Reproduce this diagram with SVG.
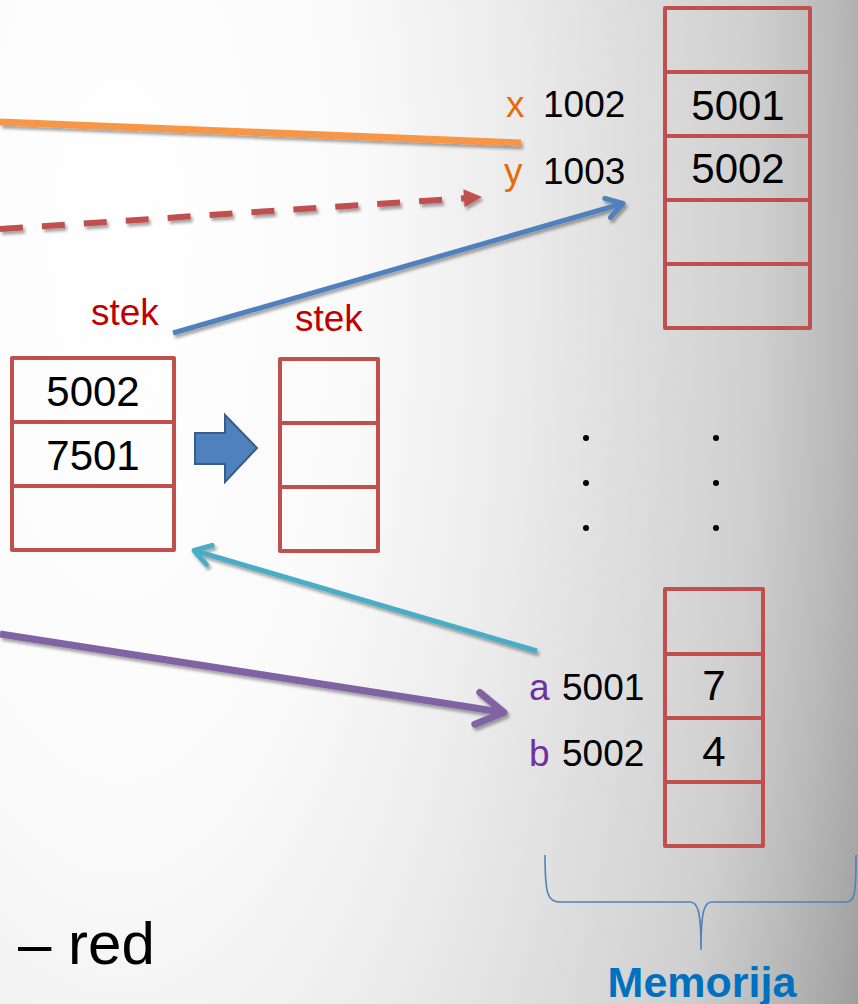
<svg xmlns="http://www.w3.org/2000/svg" width="858" height="1004" viewBox="0 0 858 1004">
  <defs>
    <!-- slide background: soft white-to-grey radial wash -->
    <radialGradient id="bg" gradientUnits="userSpaceOnUse" cx="120" cy="250" r="800"
                    gradientTransform="translate(120 250) scale(1 2.5) translate(-120 -250)">
      <stop offset="0" stop-color="#ffffff"/>
      <stop offset="0.3" stop-color="#fafafa"/>
      <stop offset="0.5" stop-color="#ebebeb"/>
      <stop offset="0.8" stop-color="#cfcfcf"/>
      <stop offset="0.9" stop-color="#b9b9b9"/>
      <stop offset="0.97" stop-color="#a6a6a6"/>
      <stop offset="1" stop-color="#9c9c9c"/>
    </radialGradient>
    <filter id="shadow" x="-10%" y="-50%" width="120%" height="200%">
      <feDropShadow dx="2" dy="3" stdDeviation="1.8" flood-color="#000" flood-opacity="0.35"/>
    </filter>
    <marker id="headRed" markerUnits="userSpaceOnUse" orient="auto" markerWidth="30" markerHeight="30" refX="0" refY="0" viewBox="-10 -15 30 30" overflow="visible">
      <path d="M -2 -9 L 16 0 L -2 9 Z" fill="#c0504d"/>
    </marker>
    <marker id="headBlue" markerUnits="userSpaceOnUse" orient="auto" markerWidth="30" markerHeight="30" refX="0" refY="0" viewBox="-25 -15 30 30" overflow="visible">
      <path d="M -16 -10 L 0 0 L -16 10" fill="none" stroke="#4f81bd" stroke-width="5" stroke-linecap="round" stroke-linejoin="round"/>
    </marker>
    <marker id="headCyan" markerUnits="userSpaceOnUse" orient="auto" markerWidth="30" markerHeight="30" refX="0" refY="0" viewBox="-25 -15 30 30" overflow="visible">
      <path d="M -16 -10 L 0 0 L -16 10" fill="none" stroke="#4bacc6" stroke-width="5" stroke-linecap="round" stroke-linejoin="round"/>
    </marker>
    <marker id="headPurple" markerUnits="userSpaceOnUse" orient="auto" markerWidth="40" markerHeight="40" refX="0" refY="0" viewBox="-30 -20 40 40" overflow="visible">
      <path d="M -27 -16 L 0 0 L -27 16" fill="none" stroke="#8064a2" stroke-width="7" stroke-linecap="round" stroke-linejoin="round"/>
    </marker>
  </defs>
  <style>
    .cell { fill: none; stroke: #c0504d; stroke-width: 4; stroke-linejoin: round; }
    .t { font-family: "Liberation Sans", Arial, sans-serif; fill: #000; }
    .addr { font-size: 37px; }
    .val { font-size: 42px; text-anchor: middle; }
    .stek { font-family: "Liberation Sans", Arial, sans-serif; font-size: 37px; fill: #c00000; }
    .xy { font-family: "Liberation Sans", Arial, sans-serif; font-size: 37px; fill: #e46c0a; }
    .ab { font-family: "Liberation Sans", Arial, sans-serif; font-size: 37px; fill: #7030a0; }
    .dot { fill: #000; }
  </style>

  <rect x="0" y="0" width="858" height="1004" fill="url(#bg)"/>

  <!-- connectors -->
  <g id="connectors" filter="url(#shadow)">
    <line x1="0" y1="122" x2="521" y2="143" stroke="#f79646" stroke-width="7"/>
    <line x1="0" y1="229" x2="466" y2="198.1" stroke="#c0504d" stroke-width="6" stroke-dasharray="23 19" marker-end="url(#headRed)"/>
    <line x1="173" y1="333" x2="623" y2="203.5" stroke="#4f81bd" stroke-width="5" marker-end="url(#headBlue)"/>
    <line x1="537" y1="651" x2="194" y2="550.5" stroke="#4bacc6" stroke-width="5" marker-end="url(#headCyan)"/>
    <line x1="0" y1="634" x2="504" y2="712.5" stroke="#8064a2" stroke-width="7" marker-end="url(#headPurple)"/>
  </g>

  <!-- memory block holding x and y -->
  <g id="mem-top">
    <rect class="cell" x="665" y="8" width="145" height="64"/>
    <rect class="cell" x="665" y="72" width="145" height="64"/>
    <rect class="cell" x="665" y="136" width="145" height="64"/>
    <rect class="cell" x="665" y="200" width="145" height="64"/>
    <rect class="cell" x="665" y="264" width="145" height="64"/>
    <text class="t val" x="738" y="120">5001</text>
    <text class="t val" x="738" y="183">5002</text>
  </g>
  <g id="label-x">
    <text class="xy" x="506" y="117">x</text>
    <text class="t addr" x="543" y="117">1002</text>
  </g>
  <g id="label-y">
    <text class="xy" x="504" y="184">y</text>
    <text class="t addr" x="543" y="184">1003</text>
  </g>

  <!-- stack before the call returns -->
  <g id="stack-1">
    <text class="stek" x="91" y="325">stek</text>
    <rect class="cell" x="12" y="358" width="162" height="64"/>
    <rect class="cell" x="12" y="422" width="162" height="64"/>
    <rect class="cell" x="12" y="486" width="162" height="64"/>
    <text class="t val" x="93" y="406">5002</text>
    <text class="t val" x="93" y="470">7501</text>
  </g>

  <!-- transition arrow -->
  <g id="block-arrow">
    <polygon points="195,433 225,433 225,415 257,448 225,482 225,464 195,464" fill="#4f81bd" stroke="#385d8a" stroke-width="2" stroke-linejoin="miter"/>
  </g>

  <!-- stack after the call returns -->
  <g id="stack-2">
    <text class="stek" x="295" y="331">stek</text>
    <rect class="cell" x="280" y="359" width="98" height="64"/>
    <rect class="cell" x="280" y="423" width="98" height="64"/>
    <rect class="cell" x="280" y="487" width="98" height="64"/>
  </g>

  <!-- ellipsis between memory regions -->
  <g id="ellipsis">
    <circle class="dot" cx="586" cy="438" r="3"/>
    <circle class="dot" cx="586" cy="483" r="3"/>
    <circle class="dot" cx="586" cy="528" r="3"/>
    <circle class="dot" cx="716" cy="438" r="3"/>
    <circle class="dot" cx="716" cy="483" r="3"/>
    <circle class="dot" cx="716" cy="528" r="3"/>
  </g>

  <!-- memory block holding a and b -->
  <g id="mem-bottom">
    <rect class="cell" x="665" y="589" width="98" height="65"/>
    <rect class="cell" x="665" y="654" width="98" height="64"/>
    <rect class="cell" x="665" y="718" width="98" height="64"/>
    <rect class="cell" x="665" y="782" width="98" height="64"/>
    <text class="t val" x="714" y="700">7</text>
    <text class="t val" x="714" y="766">4</text>
  </g>
  <g id="label-a">
    <text class="ab" x="529" y="700">a</text>
    <text class="t addr" x="562" y="700">5001</text>
  </g>
  <g id="label-b">
    <text class="ab" x="529" y="766">b</text>
    <text class="t addr" x="562" y="766">5002</text>
  </g>

  <!-- brace and caption -->
  <g id="memorija">
    <path d="M 545 855 C 545 895 548 902 560 902 L 690 902 C 698 902 701 912 701 950 C 701 912 704 902 712 902 L 845 902 C 855 902 856 895 856 855" fill="none" stroke="#4f81bd" stroke-width="1.6"/>
    <text x="702" y="997" font-family="Liberation Sans, Arial, sans-serif" font-size="43" font-weight="bold" fill="#0070c0" text-anchor="middle">Memorija</text>
  </g>

  <g id="bullet-text">
    <text class="t" x="18" y="964" font-size="60">– red</text>
  </g>
</svg>
